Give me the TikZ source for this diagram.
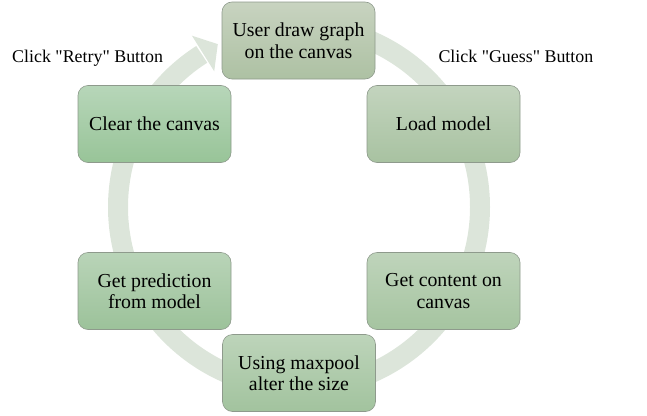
\documentclass[tikz,border=0pt]{standalone}
\usepackage{fontspec}
\setmainfont{Liberation Serif}[Ligatures=TeXOff]
\usetikzlibrary{calc}
\definecolor{ringc}{HTML}{DCE5DA}
\definecolor{boxline}{HTML}{8E9A8C}
\tikzset{
  box/.style={rounded corners=10pt, minimum width=153pt, minimum height=77pt,
    draw=boxline, line width=0.6pt, align=center, inner sep=0pt,
    font=\fontsize{19.8}{21.5}\selectfont},
  lbl/.style={inner sep=0pt, font=\fontsize{17.9}{20}\selectfont},
  ringline/.style={line width=20pt, draw=ringc}
}
\begin{document}
\begin{tikzpicture}[x=1pt,y=1pt]
\useasboundingbox (0,0) rectangle (647,-415);
\coordinate (c) at (299,-207);
% ring
\draw[ringline] ($(c)+(90:181)$) arc[start angle=90, end angle=-237.5, radius=181];
\fill[ringc] ($(c)+(122:160)$) -- ($(c)+(116.5:182)$) -- ($(c)+(122:202)$) -- cycle;
% boxes
\node[box, top color={rgb,255:red,200;green,211;blue,192}, bottom color={rgb,255:red,173;green,193;blue,163}] (n1) at (298.5,-40.5) {User draw graph\\on the canvas};
\node[box, top color={rgb,255:red,195;green,212;blue,190}, bottom color={rgb,255:red,168;green,194;blue,161}] (n2) at (443.5,-124) {Load model};
\node[box, top color={rgb,255:red,191;green,212;blue,187}, bottom color={rgb,255:red,165;green,196;blue,160}] (n3) at (443.5,-291) {Get content on\\canvas};
\node[box, top color={rgb,255:red,189;green,212;blue,186}, bottom color={rgb,255:red,162;green,195;blue,158}] (n4) at (299,-373) {Using maxpool\\alter the size};
\node[box, top color={rgb,255:red,185;green,212;blue,184}, bottom color={rgb,255:red,156;green,194;blue,154}] (n5) at (154.5,-291) {Get prediction\\from model};
\node[box, top color={rgb,255:red,183;green,214;blue,185}, bottom color={rgb,255:red,152;green,196;blue,152}] (n6) at (154.5,-124) {Clear the canvas};
% labels
\node[lbl, anchor=base west] (l1) at (12,-62.7) {Click "Retry" Button};
\node[lbl, anchor=base west] (l2) at (438.3,-62.7) {Click "Guess" Button};
\end{tikzpicture}
\end{document}
